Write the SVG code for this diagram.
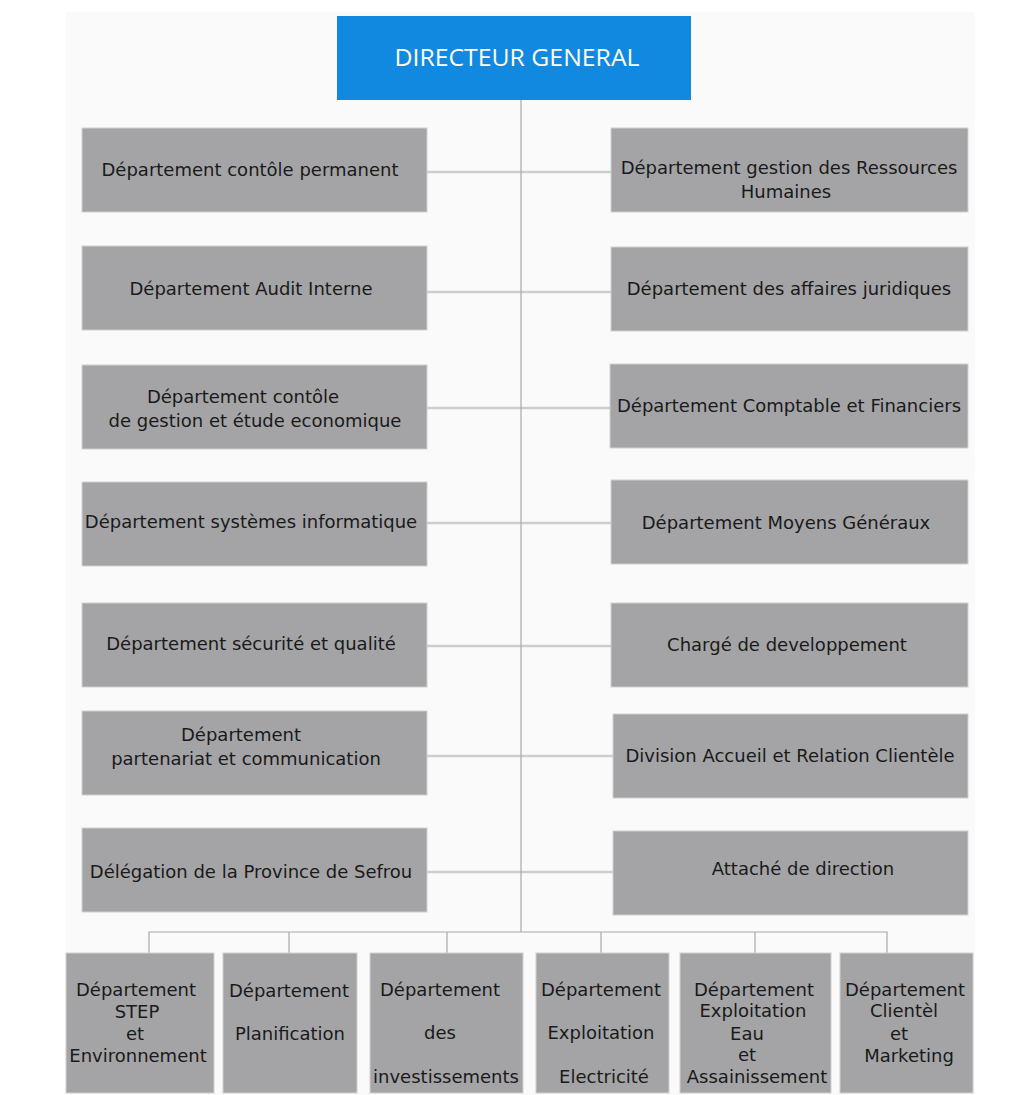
<svg xmlns="http://www.w3.org/2000/svg" width="1010" height="1095" viewBox="0 0 1010 1095">
<style>
.box{fill:#a4a4a6;stroke:#cfcfcf;stroke-width:1}
.t{font-family:"DejaVu Sans",Verdana,sans-serif;font-size:18px;fill:#1a1a1a;text-anchor:middle}
.b{font-family:"DejaVu Sans",Verdana,sans-serif;font-size:18px;fill:#1a1a1a;text-anchor:middle}
.h{stroke:#cdcdcd;stroke-width:2.5;fill:none}
.v{stroke:#a8a8a8;stroke-width:1.2;fill:none}
</style>
<rect x="0" y="0" width="1010" height="1095" fill="#ffffff"/>
<rect x="66" y="12" width="909" height="1083" fill="#fafafa"/>
<g id="connectors">
<line class="h" x1="427" y1="172" x2="611" y2="172"/>
<line class="h" x1="427" y1="292" x2="611" y2="292"/>
<line class="h" x1="427" y1="408" x2="610" y2="408"/>
<line class="h" x1="427" y1="523" x2="611" y2="523"/>
<line class="h" x1="427" y1="646" x2="611" y2="646"/>
<line class="h" x1="427" y1="756" x2="613" y2="756"/>
<line class="h" x1="427" y1="872" x2="613" y2="872"/>
<line class="v" x1="521" y1="100" x2="521" y2="932"/>
<polyline class="v" points="149,953 149,932 887,932 887,953"/>
<line class="v" x1="289" y1="932" x2="289" y2="953"/>
<line class="v" x1="447" y1="932" x2="447" y2="953"/>
<line class="v" x1="601" y1="932" x2="601" y2="953"/>
<line class="v" x1="755" y1="932" x2="755" y2="953"/>
</g>
<g id="dg">
<rect x="337" y="16" width="354" height="84" fill="#1189e1"/>
<text x="517" y="66" font-family="'Open Sans',sans-serif" font-size="23" fill="#ffffff" text-anchor="middle" textLength="245" lengthAdjust="spacingAndGlyphs">DIRECTEUR GENERAL</text>
</g>
<g id="l1"><rect class="box" x="82" y="128" width="345" height="84"/><text class="t" x="250" y="176">Département contôle permanent</text></g>
<g id="l2"><rect class="box" x="82" y="246" width="345" height="84"/><text class="t" x="251" y="295">Département Audit Interne</text></g>
<g id="l3"><rect class="box" x="82" y="365" width="345" height="84"/><text class="t" x="243" y="403">Département contôle</text><text class="t" x="255" y="427">de gestion et étude economique</text></g>
<g id="l4"><rect class="box" x="82" y="482" width="345" height="84"/><text class="t" x="251" y="528">Département systèmes informatique</text></g>
<g id="l5"><rect class="box" x="82" y="603" width="345" height="84"/><text class="t" x="251" y="650">Département sécurité et qualité</text></g>
<g id="l6"><rect class="box" x="82" y="711" width="345" height="84"/><text class="t" x="241" y="741">Département</text><text class="t" x="246" y="765">partenariat et communication</text></g>
<g id="l7"><rect class="box" x="82" y="828" width="345" height="84"/><text class="t" x="251" y="878">Délégation de la Province de Sefrou</text></g>
<g id="r1"><rect class="box" x="611" y="128" width="357" height="84"/><text class="t" x="789" y="174">Département gestion des Ressources</text><text class="t" x="786" y="198">Humaines</text></g>
<g id="r2"><rect class="box" x="611" y="247" width="357" height="84"/><text class="t" x="789" y="295">Département des affaires juridiques</text></g>
<g id="r3"><rect class="box" x="610" y="364" width="358" height="84"/><text class="t" x="789" y="412">Département Comptable et Financiers</text></g>
<g id="r4"><rect class="box" x="611" y="480" width="357" height="84"/><text class="t" x="786" y="529">Département Moyens Généraux</text></g>
<g id="r5"><rect class="box" x="611" y="603" width="357" height="84"/><text class="t" x="787" y="651">Chargé de developpement</text></g>
<g id="r6"><rect class="box" x="613" y="714" width="355" height="84"/><text class="t" x="790" y="762">Division Accueil et Relation Clientèle</text></g>
<g id="r7"><rect class="box" x="613" y="831" width="355" height="84"/><text class="t" x="803" y="875">Attaché de direction</text></g>
<g id="b1"><rect class="box" x="66" y="953" width="148" height="140"/><text class="b" x="136" y="996">Département</text><text class="b" x="137" y="1018">STEP</text><text class="b" x="135" y="1040">et</text><text class="b" x="138" y="1062">Environnement</text></g>
<g id="b2"><rect class="box" x="223" y="953" width="134" height="140"/><text class="b" x="289" y="997">Département</text><text class="b" x="290" y="1040">Planification</text></g>
<g id="b3"><rect class="box" x="370" y="953" width="153" height="140"/><text class="b" x="440" y="996">Département</text><text class="b" x="440" y="1039">des</text><text class="b" x="446" y="1083">investissements</text></g>
<g id="b4"><rect class="box" x="536" y="953" width="133" height="140"/><text class="b" x="601" y="996">Département</text><text class="b" x="601" y="1039">Exploitation</text><text class="b" x="604" y="1083">Electricité</text></g>
<g id="b5"><rect class="box" x="680" y="953" width="151" height="140"/><text class="b" x="754" y="996">Département</text><text class="b" x="753" y="1017">Exploitation</text><text class="b" x="747" y="1040">Eau</text><text class="b" x="747" y="1061">et</text><text class="b" x="757" y="1083">Assainissement</text></g>
<g id="b6"><rect class="box" x="840" y="953" width="133" height="140"/><text class="b" x="905" y="996">Département</text><text class="b" x="904" y="1017">Clientèl</text><text class="b" x="899" y="1040">et</text><text class="b" x="909" y="1062">Marketing</text></g>
</svg>
